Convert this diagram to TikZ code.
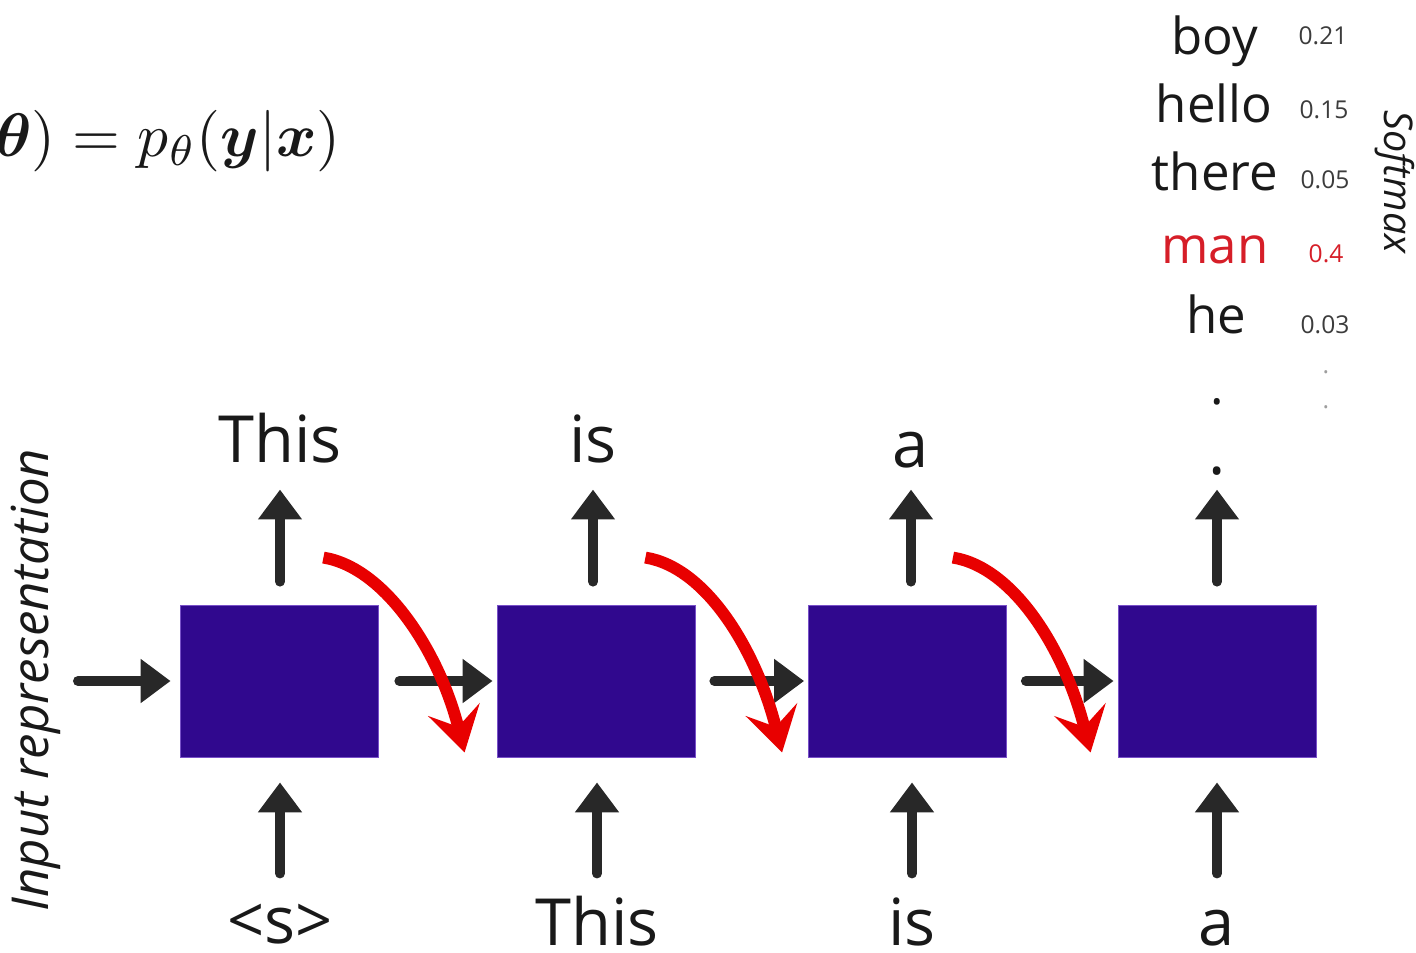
\documentclass[tikz,border=0pt]{standalone}
\usepackage{amsmath}
\usepackage[no-math]{fontspec}
\setmainfont{Open Sans}
\usetikzlibrary{arrows.meta,calc}
\definecolor{boxc}{RGB}{48,8,142}
\definecolor{boxedge}{RGB}{120,80,200}
\definecolor{arrc}{RGB}{40,40,40}
\definecolor{redc}{RGB}{232,0,0}
\definecolor{txt}{RGB}{25,25,25}
\definecolor{numc}{RGB}{60,60,60}
\definecolor{manc}{RGB}{214,30,40}
\begin{document}
\begin{tikzpicture}[x=0.02cm,y=-0.02cm,
  cell/.style={fill=boxc, draw=boxedge, line width=0.5pt, minimum width=3.96cm, minimum height=3.04cm, inner sep=0},
  word/.style={font=\fontsize{37}{44}\selectfont, text=txt, anchor=base, inner sep=0},
  vocab/.style={font=\fontsize{29}{34}\selectfont, text=txt, anchor=base, inner sep=0},
  prob/.style={font=\fontsize{14}{17}\selectfont, text=numc, anchor=base, inner sep=0},
  side/.style={font=\itshape\fontsize{29}{34}\selectfont, text=txt, inner sep=0},
  sidesmall/.style={font=\itshape\fontsize{22.5}{27}\selectfont, text=txt, inner sep=0},
  arr/.style={draw=arrc, line width=5.7pt, line cap=round, -{Triangle[length=17pt,width=24pt]}},
  carry/.style={draw=redc, line width=6.8pt, -{Stealth[length=25pt,width=30pt,inset=10pt]}}]
\path[use as bounding box, fill=white] (0,0) rectangle (1416,953);

% formula
\node[anchor=base east, inner sep=0, text=txt] (f) at (341,156)
  {\scalebox{3.5}{$\boldsymbol{\theta}) = p_{\theta}(\boldsymbol{y}|\boldsymbol{x})$}};

% softmax list
\node[vocab] (v1) at (1215,55) {boy};
\node[vocab] (v2) at (1214,122) {hello};
\node[vocab] (v3) at (1215,190) {there};
\node[vocab, text=manc] (v4) at (1215,263) {man};
\node[vocab] (v5) at (1216,333) {he};
\node[vocab] (v6) at (1217,404) {.};
\node[prob] (p1) at (1323,45) {0.21};
\node[prob] (p2) at (1324,118) {0.15};
\node[prob] (p3) at (1325,188) {0.05};
\node[prob, text=manc] (p4) at (1326,262) {0.4};
\node[prob] (p5) at (1325,333) {0.03};
\node[prob, text=numc!50] (p6) at (1326,373) {.};
\node[prob, text=numc!50] (p7) at (1326,408) {.};
\node[sidesmall, rotate=-90] (sm) at (1395,182) {Softmax};
\node[side, rotate=90] (ir) at (36,680) {Input representation};

% cells
\node[cell] (b1) at (279,681) {};
\node[cell] (b2) at (596,681) {};
\node[cell] (b3) at (907.5,681) {};
\node[cell] (b4) at (1217,681) {};

% output words
\node[word] (t1) at (280,462) {This};
\node[word] (t2) at (593,462) {is};
\node[word] (t3) at (911,467) {a};
\node[word] (t4) at (1217,474) {.};
% input words
\node[word] (i1) at (280,943) {<s>};
\node[word] (i2) at (597,945) {This};
\node[word] (i3) at (912,945) {is};
\node[word] (i4) at (1217,945) {a};

% vertical arrows
\foreach \k in {1,2,3,4}{
  \draw[arr] ($(b\k.north -| t\k)+(0,-23)$) -- ($(b\k.north -| t\k)+(0,-115)$);
  \draw[arr] ($(b\k.south -| i\k)+(0,116)$) -- ($(b\k.south -| i\k)+(0,25)$);
}

% horizontal arrows
\coordinate (in0) at (78,681);
\draw[arr] (in0) -- ($(b1.west)+(-9,0)$);
\draw[arr] ($(b1.east)+(21,0)$) -- ($(b2.west)+(-4,0)$);
\draw[arr] ($(b2.east)+(19,0)$) -- ($(b3.west)+(-4,0)$);
\draw[arr] ($(b3.east)+(19,0)$) -- ($(b4.west)+(-4,0)$);

% red feedback arrows
\coordinate (s1) at ($(b1.north east)+(-55,-47)$);
\coordinate (e1) at ($(b2.south west)+(-32,-5)$);
\coordinate (s2) at ($(b2.north east)+(-50,-47)$);
\coordinate (e2) at ($(b3.south west)+(-26,-5)$);
\coordinate (s3) at ($(b3.north east)+(-54,-47)$);
\coordinate (e3) at ($(b4.south west)+(-27,-5)$);
\foreach \k in {1,2,3}{
  \draw[carry] (s\k) .. controls ($(s\k)+(62,10)$) and ($(e\k)+(-25,-100)$) .. (e\k);
}
\end{tikzpicture}
\end{document}
